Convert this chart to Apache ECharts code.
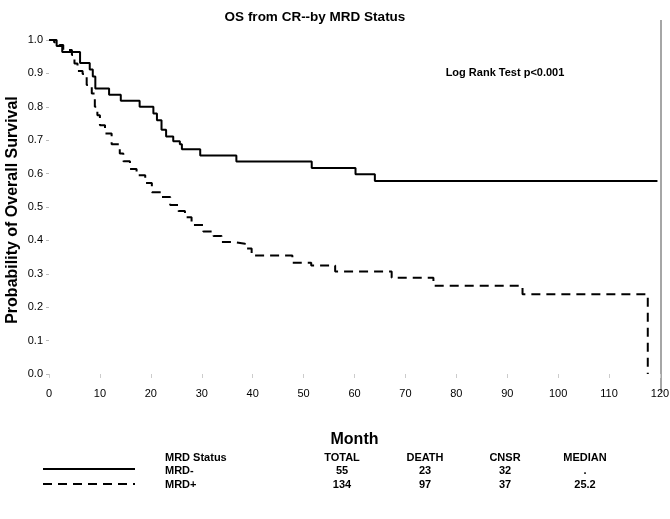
<!DOCTYPE html>
<html>
<head>
<meta charset="utf-8">
<script src="https://cdn.jsdelivr.net/npm/echarts@6/dist/echarts.min.js"></script>
<style>html,body{margin:0;padding:0;background:#fff}#c{width:670px;height:519px}</style>
</head>
<body>
<div id="c"></div>
<script>
// ---- data ----
var mrdNegMonths = [0, 1.5, 2.6, 6.1, 8.0, 8.6, 9.1, 11.8, 14.1, 17.8, 20.5, 21.2, 22.1, 23.0, 24.4, 25.7, 26.1, 29.7, 36.8, 51.6, 60.2, 64.0, 119.5];
var mrdNegSurv   = [1.0, 0.982, 0.964, 0.931, 0.912, 0.891, 0.855, 0.836, 0.818, 0.800, 0.780, 0.760, 0.731, 0.711, 0.697, 0.688, 0.673, 0.654, 0.636, 0.617, 0.598, 0.578, 0.578];
var mrdPosMonths = [0, 1.0, 2.0, 2.8, 4.5, 5.0, 5.6, 6.6, 7.4, 8.4, 9.0, 9.5, 10.0, 11.0, 12.3, 13.9, 14.6, 15.9, 17.2, 18.9, 20.2, 22.1, 23.8, 25.4, 26.7, 28.0, 30.3, 32.3, 33.9, 36.5, 38.5, 39.8, 47.8, 51.5, 56.2, 67.3, 75.5, 93.0, 117.6];
var mrdPosSurv   = [1.0, 0.993, 0.985, 0.970, 0.955, 0.930, 0.907, 0.898, 0.865, 0.840, 0.800, 0.775, 0.745, 0.720, 0.688, 0.660, 0.637, 0.614, 0.595, 0.572, 0.544, 0.530, 0.506, 0.488, 0.469, 0.446, 0.427, 0.413, 0.395, 0.390, 0.376, 0.355, 0.333, 0.325, 0.307, 0.288, 0.264, 0.239, 0.0];

var tableHeaders = ['MRD Status', 'TOTAL', 'DEATH', 'CNSR', 'MEDIAN'];
var groupNames  = ['MRD-', 'MRD+'];
var totals      = ['55', '134'];
var deaths      = ['23', '97'];
var censored    = ['32', '37'];
var medians     = ['.', '25.2'];

var titleText = 'OS from CR--by MRD Status';
var xTitle = 'Month';
var yTitle = 'Probability of Overall Survival';
var annotation = 'Log Rank Test p<0.001';

// ---- build ----
function pairs(xs, ys){ return xs.map(function(x,i){ return [x, ys[i]]; }); }

var FONT = '"Liberation Sans",Arial,sans-serif';
var chart = echarts.init(document.getElementById('c'), null, {renderer:'canvas'});

var colX = [165, 342, 425, 505, 585];
var rowY = [458, 471, 485];
var g = [];
var cols = [[tableHeaders[0]].concat(groupNames), [tableHeaders[1]].concat(totals), [tableHeaders[2]].concat(deaths), [tableHeaders[3]].concat(censored), [tableHeaders[4]].concat(medians)];
for (var r=0;r<3;r++){
  cols.forEach(function(col,i){
    g.push({type:'text', x: colX[i], y: rowY[r], style:{text:col[r], font:'bold 11px '+FONT, fill:'#000', textAlign: i===0?'left':'center', textVerticalAlign:'middle'}});
  });
}
g.push({type:'line', shape:{x1:43,y1:469,x2:135,y2:469}, style:{stroke:'#000', lineWidth:2}});
g.push({type:'line', shape:{x1:43,y1:484,x2:135,y2:484}, style:{stroke:'#000', lineWidth:2, lineDash:[9,6]}});
g.push({type:'line', shape:{x1:661,y1:20,x2:661,y2:392}, style:{stroke:'#888', lineWidth:1.5}});
g.push({type:'text', x:505, y:73, style:{text:annotation, font:'bold 11px '+FONT, fill:'#000', textAlign:'center', textVerticalAlign:'middle'}});
g.push({type:'text', x:13, y:210, rotation:Math.PI/2, style:{text:yTitle, font:'bold 16px '+FONT, fill:'#000', textAlign:'center', textVerticalAlign:'middle'}});

chart.setOption({
  animation:false,
  backgroundColor:'#fff',
  title:{text:titleText, left:310, top:5, textAlign:'center', textStyle:{fontFamily:FONT, fontWeight:'bold', fontSize:13.5, color:'#000'}},
  grid:{left:49, right:10, top:40, bottom:145, containLabel:false, outerBoundsMode:'none'},
  xAxis:{type:'value', min:0, max:120, interval:10,
    name:xTitle, nameLocation:'middle', nameGap:58, nameTextStyle:{fontFamily:FONT, fontWeight:'bold', fontSize:16, color:'#000'},
    axisLine:{show:false}, axisTick:{show:true, length:4, lineStyle:{color:'#ccc'}},
    axisLabel:{fontFamily:FONT, fontSize:11, color:'#000', margin:14},
    splitLine:{show:false}},
  yAxis:{type:'value', min:0, max:1, interval:0.1,
    axisLine:{show:false}, axisTick:{show:true, length:3, lineStyle:{color:'#bbb'}},
    axisLabel:{fontFamily:FONT, fontSize:11, color:'#000', margin:6, formatter:function(v){return v.toFixed(1);}},
    splitLine:{show:false}},
  series:[
    {name:'MRD-', type:'line', step:'end', showSymbol:false, data:pairs(mrdNegMonths, mrdNegSurv), lineStyle:{color:'#000', width:2}},
    {name:'MRD+', type:'line', step:'end', showSymbol:false, data:pairs(mrdPosMonths, mrdPosSurv), lineStyle:{color:'#000', width:2, type:[9,6]}}
  ],
  graphic:g
});
</script>
</body>
</html>
